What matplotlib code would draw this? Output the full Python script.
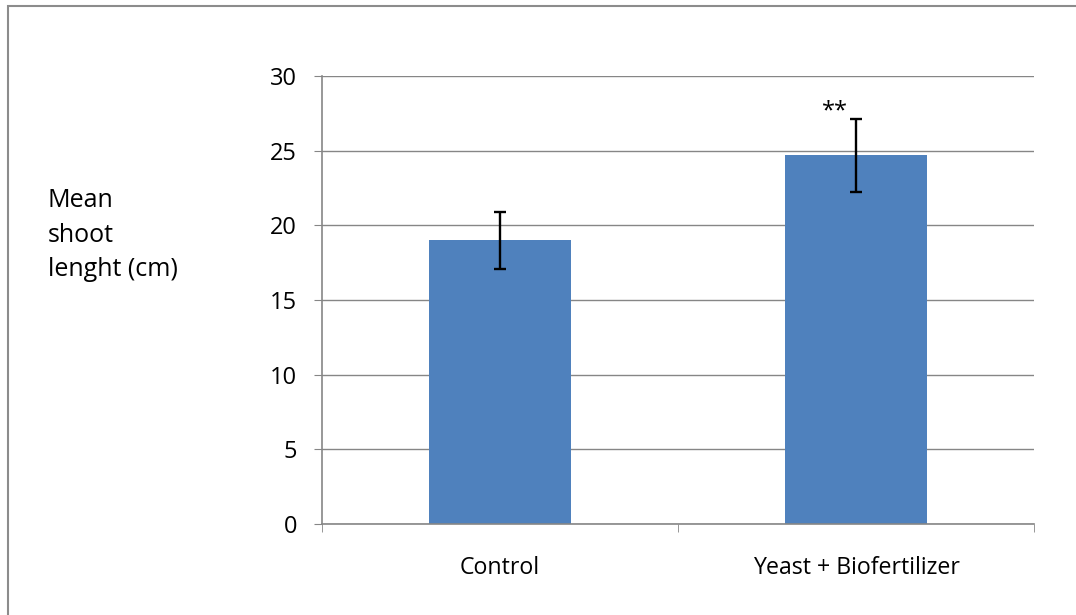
import matplotlib
matplotlib.use("Agg")
import matplotlib.pyplot as plt
from matplotlib.patches import Rectangle

categories = ["Control", "Yeast + Biofertilizer"]
means = [19.0, 24.7]
errors = [1.9, 2.45]
y_ticks = [0, 5, 10, 15, 20, 25, 30]
signif = ["", "**"]

plt.rcParams["font.family"] = ["Open Sans", "DejaVu Sans"]
plt.rcParams["font.size"] = 16

W, H = 1076, 615
fig = plt.figure(figsize=(W / 100, H / 100), dpi=100)

# outer chart frame (only top and left edges visible in the crop)
fig.patches.append(Rectangle((8 / W, -0.1), 1.2, 1.1 - 6 / H, transform=fig.transFigure,
                             fill=False, edgecolor="#8c8c8c", linewidth=1.5))

ax = fig.add_axes([322 / W, 1 - 524 / H, (1034 - 322) / W, (524 - 76) / H])
x = list(range(len(categories)))
ax.bar(x, means, width=0.4, color="#4f81bd", zorder=2)
ax.errorbar(x, means, yerr=errors, fmt="none", ecolor="black", elinewidth=1.7,
            capsize=4.3, capthick=1.7, zorder=3)

for xi, m, e, s in zip(x, means, errors, signif):
    if s:
        ax.text(xi - 0.06, m + e + 0.45, s, ha="center", va="center", fontsize=17)

ax.set_xlim(-0.5, len(categories) - 0.5)
ax.set_ylim(0, 30)
ax.set_yticks(y_ticks)
ax.yaxis.grid(True, color="#868686", linewidth=1)
ax.set_axisbelow(True)

ax.set_xticks(x)
ax.set_xticklabels(categories)
ax.set_xticks([-0.5, 0.5, 1.5], minor=True)
ax.tick_params(axis="x", which="major", length=0, pad=23, labelsize=16.7)
ax.tick_params(axis="x", which="minor", length=6, color="#868686", direction="out")
ax.tick_params(axis="y", length=6, color="#868686", direction="out", pad=12, labelsize=17)

for side in ["top", "right"]:
    ax.spines[side].set_visible(False)
for side in ["left", "bottom"]:
    ax.spines[side].set_color("#868686")
    ax.spines[side].set_linewidth(1.2)

fig.text(48 / W, 1 - 235 / H, "Mean\nshoot\nlenght (cm)", ha="left", va="center",
         fontsize=18, linespacing=1.5)

fig.savefig("out.png", dpi=100)
